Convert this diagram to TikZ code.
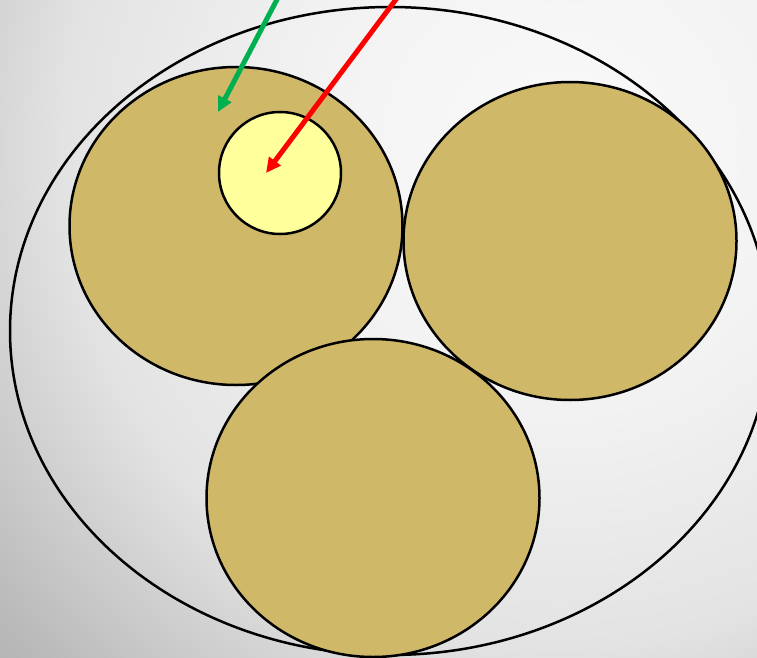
\documentclass[tikz,border=0pt]{standalone}
\usepackage{tikz}
\usetikzlibrary{arrows.meta,positioning,shapes.geometric}
\usepackage{xcolor}
\definecolor{ftan}{HTML}{CFB969}
\definecolor{fcore}{HTML}{FFFF9C}
\definecolor{fgreen}{HTML}{00B050}
\definecolor{fred}{HTML}{FF0000}
\pgfdeclareradialshading{backglow}{\pgfpoint{0bp}{0bp}}{%
  color(0bp)=(black!2); color(8bp)=(black!5); color(15.5bp)=(black!11);
  color(22.5bp)=(black!27); color(25bp)=(black!31); color(50bp)=(black!31)}
\tikzset{
  shell/.style  = {draw, line width=2.5pt, ellipse, inner sep=0pt},
  strand/.style = {shell, fill=ftan, minimum width=333pt, minimum height=318pt},
  core/.style   = {shell, circle, fill=fcore, minimum size=122pt},
  pointer/.style= {-{Triangle[length=15pt,width=14pt]}, line width=5pt},
}

\begin{document}
\begin{tikzpicture}[x=1pt,y=-1pt]
\clip (0,0) rectangle (757,658);
\shade[shading=backglow] (560,150) circle[radius=800];
\node[shell, minimum width=760pt, minimum height=648pt] (jacket) at (390,331) {};
\node[strand] (s1) at (236,226) {};
\node[strand] (s2) at (570,241) {};
\node[strand] (s3) at (373,498) {};
\node[core] (c1) at (280,173) {};
\coordinate (gtail) at (282,-10);
\coordinate (rtail) at (403,-10);
\coordinate (gtip) at (218,112);
\coordinate (rtip) at (266,173);
\draw[pointer, fgreen] (gtail) -- (gtip);
\draw[pointer, fred] (rtail) -- (rtip);
\end{tikzpicture}
\end{document}
